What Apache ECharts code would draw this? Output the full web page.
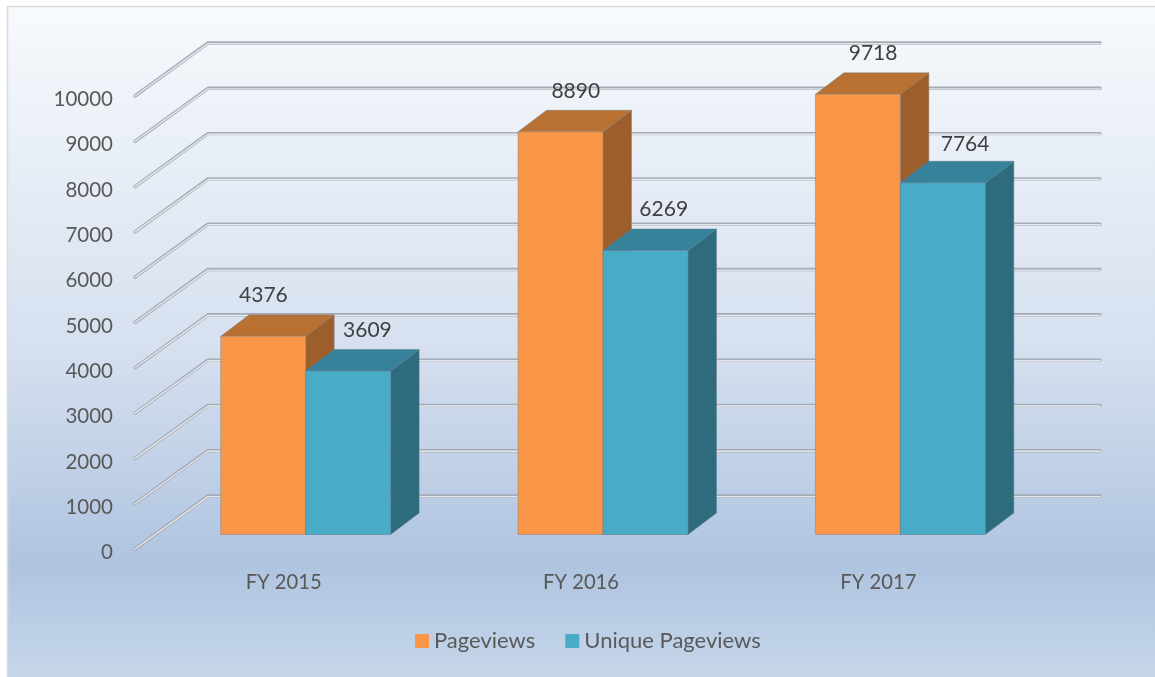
<!DOCTYPE html>
<html><head><meta charset="utf-8">
<style>html,body{margin:0;padding:0;background:#fff}#c{width:1155px;height:677px}</style>
<script src="https://cdn.jsdelivr.net/npm/echarts@6/dist/echarts.min.js"></script>
</head><body><div id="c"></div>
<script>
const categories = ['FY 2015', 'FY 2016', 'FY 2017'];
const pageviews = [4376, 8890, 9718];
const uniquePageviews = [3609, 6269, 7764];
const tickValues = [0, 1000, 2000, 3000, 4000, 5000, 6000, 7000, 8000, 9000, 10000];

const FONT = 'Lato';
const WALL_X = 73, WALL_Y = 53;       // depth of the side wall
const BAR_X = 28.5, BAR_Y = 21.5;     // depth of a bar
const SHIFT_X = 22, SHIFT_Y = 14.5;   // bars sit partway back in the floor
const BAR_BAND = 0.2857;              // bar width as share of a category
const labelNudge = [
  [[-14, 0], [1, 1], [1, 0]],
  [[5, 1], [4, 0], [8, 3]]
];
const palette = [
  { front: '#fa9647', side: '#9c5f2b', top: '#b97033', edge: 'rgba(125,125,125,0.45)' },
  { front: '#49acc7', side: '#2e6b7c', top: '#36829a', edge: 'rgba(95,125,150,0.55)' }
];

function renderGrid(params, api) {
  const p = api.coord([0, api.value(1)]);
  const cs = params.coordSys;
  const x0 = cs.x, x1 = cs.x + WALL_X, x2 = cs.x + cs.width + WALL_X, y0 = p[1], y1 = p[1] - WALL_Y;
  const pts = [[x0, y0], [x1, y1], [x2, y1]];
  const under = [[x0, y0], [x1, y1 + 0.6], [x2, y1 + 0.6]];
  return { type: 'group', children: [
    { type: 'polyline', shape: { points: pts }, style: { fill: 'none', stroke: '#a6acb6', lineWidth: 3.4, lineJoin: 'round', lineCap: 'round' } },
    { type: 'polyline', shape: { points: under }, style: { fill: 'none', stroke: '#e4e7ec', lineWidth: 1.4, lineJoin: 'round', lineCap: 'round' } }
  ] };
}

function makeBarRenderer(si) {
  return function (params, api) {
    const cat = api.value(0), val = api.value(1);
    const base = api.coord([cat, 0]), topPt = api.coord([cat, val]);
    const w = api.size([1, 0])[0] * BAR_BAND;
    const L = base[0] + SHIFT_X - w + si * w, R = L + w;
    const B = base[1] - SHIFT_Y, T = topPt[1] - SHIFT_Y;
    const c = palette[si];
    const nudge = labelNudge[si][params.dataIndex];
    const edge = { stroke: c.edge, lineWidth: 1 };
    return { type: 'group', children: [
      { type: 'polygon', shape: { points: [[R, T], [R + BAR_X, T - BAR_Y], [R + BAR_X, B - BAR_Y], [R, B]] },
        style: Object.assign({ fill: c.side }, edge) },
      { type: 'polygon', shape: { points: [[L, T], [L + BAR_X, T - BAR_Y], [R + BAR_X, T - BAR_Y], [R, T]] },
        style: Object.assign({ fill: c.top }, edge) },
      { type: 'rect', shape: { x: L, y: T, width: w, height: B - T },
        style: Object.assign({ fill: c.front }, edge) },
      { type: 'text', z2: 50, style: {
          x: (L + R + BAR_X) / 2 + nudge[0], y: T - BAR_Y - 20 + nudge[1],
          text: String(val), fill: '#404040', font: '21px ' + FONT, align: 'center', verticalAlign: 'middle' } }
    ] };
  };
}

const chart = echarts.init(document.getElementById('c'), null, { renderer: 'canvas' });
chart.setOption({
  animation: false,
  textStyle: { fontFamily: FONT },
  graphic: [{
    type: 'rect', z: -10, silent: true,
    shape: { x: 7.5, y: 6.5, width: 1160, height: 680 },
    style: {
      stroke: '#d9d9d9', lineWidth: 1.5,
      fill: new echarts.graphic.LinearGradient(0, 0, 0, 1, [
        { offset: 0, color: '#f7fafd' },
        { offset: 0.5, color: '#d6e0ef' },
        { offset: 0.82, color: '#afc4e0' },
        { offset: 1, color: '#c8d8eb' }
      ])
    }
  }],
  grid: { left: 135, right: 128, top: 96, bottom: 128 },
  legend: {
    data: ['Pageviews', 'Unique Pageviews'],
    left: 415, top: 630, padding: 0, icon: 'rect', itemWidth: 14, itemHeight: 14, itemGap: 30,
    textStyle: { color: '#595959', fontSize: 22, fontFamily: FONT }
  },
  xAxis: {
    type: 'category', data: categories,
    axisLine: { show: false }, axisTick: { show: false }, splitLine: { show: false },
    axisLabel: { color: '#595959', fontSize: 20.2, fontFamily: FONT, margin: 23 }
  },
  yAxis: {
    type: 'value', min: 0, max: 10000, interval: 1000,
    axisLine: { show: false }, axisTick: { show: false }, splitLine: { show: false },
    axisLabel: { margin: 22, formatter: v => '{n|' + v + '}',
      rich: { n: { color: '#595959', fontSize: 20.5, fontFamily: FONT, padding: [7, 0, 0, 0] } } }
  },
  series: [
    { type: 'custom', name: 'walls', silent: true, z: 1, renderItem: renderGrid,
      data: tickValues.map(v => [0, v]), encode: { x: 0, y: 1 } },
    { type: 'custom', name: 'Pageviews', z: 2, renderItem: makeBarRenderer(0), itemStyle: { color: palette[0].front },
      data: pageviews.map((v, i) => [i, v]), encode: { x: 0, y: 1 } },
    { type: 'custom', name: 'Unique Pageviews', z: 3, renderItem: makeBarRenderer(1), itemStyle: { color: palette[1].front },
      data: uniquePageviews.map((v, i) => [i, v]), encode: { x: 0, y: 1 } }
  ]
});
</script></body></html>
